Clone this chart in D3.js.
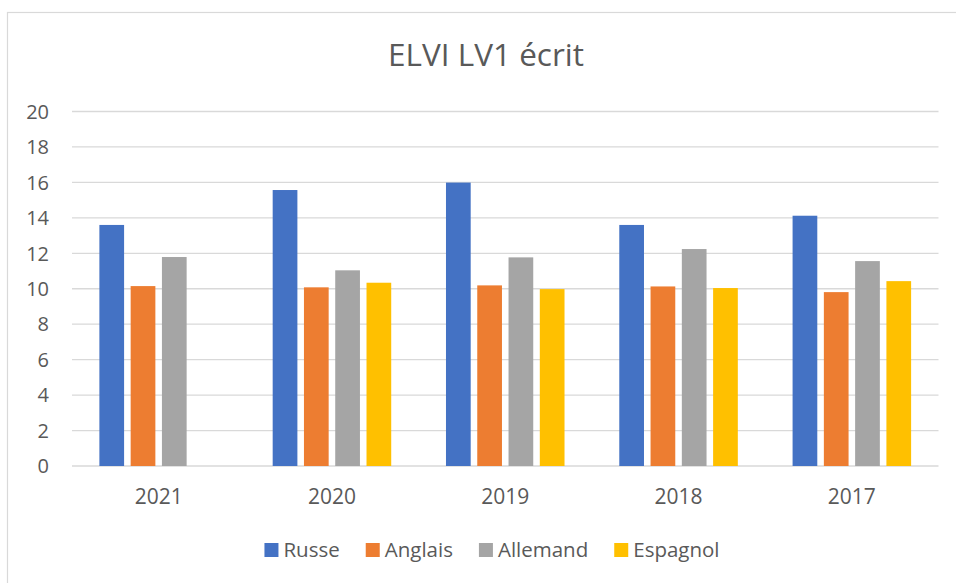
<!DOCTYPE html>
<html>
<head>
<meta charset="utf-8">
<script src="https://cdn.jsdelivr.net/npm/d3@7"></script>
<style>
  body { margin: 0; background: #fff; }
  text { font-family: "Open Sans", sans-serif; fill: #595959; }
</style>
</head>
<body>
<div id="chart"></div>
<script>
const years = ["2021", "2020", "2019", "2018", "2017"];
const series = ["Russe", "Anglais", "Allemand", "Espagnol"];
const russe = [13.6, 15.57, 15.99, 13.6, 14.12];
const anglais = [10.15, 10.08, 10.19, 10.13, 9.81];
const allemand = [11.79, 11.04, 11.77, 12.24, 11.56];
const espagnol = [null, 10.34, 9.98, 10.04, 10.43];
const yTicks = [0, 2, 4, 6, 8, 10, 12, 14, 16, 18, 20];
const colors = ["#4472c4", "#ed7d31", "#a5a5a5", "#ffc000"];

const values = [russe, anglais, allemand, espagnol];

const width = 956;
const height = 583;
const margin = { top: 111.5, right: 17.5, bottom: 117, left: 72 };

const svg = d3.select("#chart").append("svg")
    .attr("width", width)
    .attr("height", height);

// chart frame (right and bottom edges fall outside the picture)
svg.append("rect")
    .attr("x", 7.5)
    .attr("y", 12.5)
    .attr("width", 970)
    .attr("height", 600)
    .attr("fill", "#fff")
    .attr("stroke", "#d9d9d9")
    .attr("stroke-width", 1.2);

const x0 = d3.scaleBand()
    .domain(years)
    .range([margin.left, width - margin.right])
    .padding(0);

const x1 = d3.scaleBand()
    .domain(series)
    .range([x0.bandwidth() * 0.158, x0.bandwidth() * 0.842])
    .paddingInner(0.21);

const y = d3.scaleLinear()
    .domain([0, 20])
    .range([height - margin.bottom, margin.top]);

// gridlines
svg.append("g")
    .selectAll("line")
    .data(yTicks)
    .join("line")
        .attr("x1", margin.left)
        .attr("x2", width - margin.right)
        .attr("y1", d => y(d))
        .attr("y2", d => y(d))
        .attr("stroke", "#d9d9d9")
        .attr("stroke-width", 1.3);

// y labels
svg.append("g")
    .selectAll("text")
    .data(yTicks)
    .join("text")
        .attr("x", 49)
        .attr("y", d => y(d))
        .attr("dy", "0.36em")
        .attr("text-anchor", "end")
        .style("font-size", "20px")
        .text(d => d);

// bars
const groups = svg.append("g")
    .selectAll("g")
    .data(years)
    .join("g")
        .attr("transform", d => `translate(${x0(d)},0)`);

groups.selectAll("rect")
    .data((d, i) => series.map((s, j) => ({ s, j, v: values[j][i] })).filter(d => d.v != null))
    .join("rect")
        .attr("x", d => x1(d.s))
        .attr("width", x1.bandwidth())
        .attr("y", d => y(d.v))
        .attr("height", d => y(0) - y(d.v))
        .attr("fill", d => colors[d.j]);

// category labels
svg.append("g")
    .selectAll("text")
    .data(years)
    .join("text")
        .attr("x", d => x0(d) + x0.bandwidth() / 2)
        .attr("y", 504)
        .attr("text-anchor", "middle")
        .style("font-size", "21px")
        .text(d => d);

// title
svg.append("text")
    .attr("x", 486)
    .attr("y", 66)
    .attr("text-anchor", "middle")
    .style("font-size", "31.5px")
    .text("ELVI LV1 écrit");

// legend
const legend = svg.append("g");
const items = legend.selectAll("g")
    .data(series)
    .join("g");

items.append("rect")
    .attr("width", 14)
    .attr("height", 14)
    .attr("y", -14)
    .attr("fill", (d, i) => colors[i]);

items.append("text")
    .attr("x", 19)
    .attr("y", 0)
    .style("font-size", "20.5px")
    .text(d => d);

let offset = 0;
items.each(function () {
    const w = d3.select(this).select("text").node().getComputedTextLength() + 19;
    d3.select(this).attr("transform", `translate(${offset},0)`);
    offset += w + 26;
});
const legendWidth = offset - 26;
legend.attr("transform", `translate(${492 - legendWidth / 2},557)`);
</script>
</body>
</html>
